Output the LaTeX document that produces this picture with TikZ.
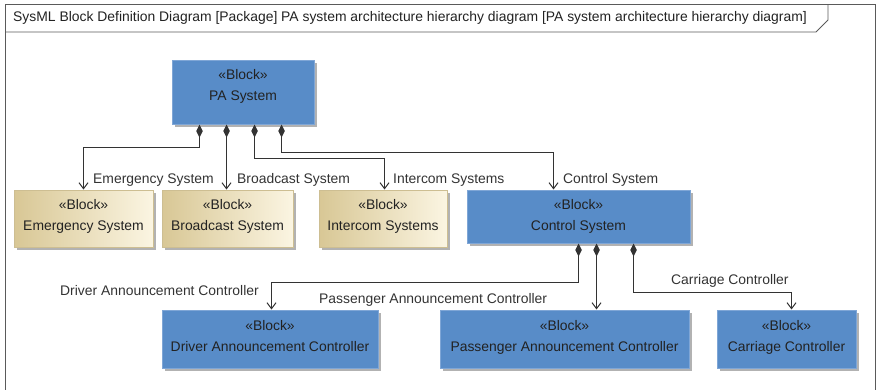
\documentclass[tikz,border=0pt]{standalone}
\usepackage{fontspec}
\setmainfont{Liberation Sans}
\usetikzlibrary{arrows.meta,shadows,calc}
\definecolor{blockblue}{HTML}{588CC8}
\definecolor{blueedge}{HTML}{7FA6D6}
\definecolor{tanleft}{HTML}{D8C795}
\definecolor{tanright}{HTML}{FBF5E2}
\definecolor{tanedge}{HTML}{CDBE92}
\definecolor{ink}{HTML}{222222}
\definecolor{wire}{HTML}{333333}
\definecolor{framec}{HTML}{5A5A5A}
\begin{document}
\begin{tikzpicture}[x=1pt,y=-1pt,
  font=\fontsize{13.9}{21}\selectfont,
  every node/.style={text=ink},
  blockshadow/.style={drop shadow={shadow xshift=3pt,shadow yshift=-3pt,fill=black!30,opacity=1}},
  blueblock/.style={draw=blueedge,line width=1pt,fill=blockblue,inner sep=0pt,blockshadow},
  tanblock/.style={draw=tanedge,line width=1pt,left color=tanleft,right color=tanright,inner sep=0pt,blockshadow},
  btext/.style={anchor=north,align=center,inner sep=0pt},
  rolelabel/.style={anchor=west,inner sep=0pt,text=wire},
  comp/.style={draw=wire,line width=1pt,{Diamond[length=13pt,width=6.5pt]}-{Straight Barb[length=6pt,width=9pt]}}]
\useasboundingbox (0,0) rectangle (876,389);

% diagram frame and header tab
\draw[framec,line width=0.8pt] (5,395) -- (5,4) -- (875,4) -- (875,395);
\draw[framec,line width=0.8pt] (5,32) -- (816,32) -- (828,20) -- (828,4);
\node[anchor=west,inner sep=0pt] (title) at (13,18)
  {SysML Block Definition Diagram [Package] PA system architecture hierarchy diagram [PA system architecture hierarchy diagram]};

% blocks
\node[blueblock,minimum width=142pt,minimum height=64pt] (pa) at (243,92) {};
\node[btext] (pa-t) at ($(pa.north)+(0,10)$) {«Block»\\PA System};

\node[tanblock,minimum width=139pt,minimum height=57pt] (emer) at (83.5,218.5) {};
\node[btext] (emer-t) at ($(emer.north)+(0,10)$) {«Block»\\Emergency System};

\node[tanblock,minimum width=131pt,minimum height=57pt] (bcast) at (227.5,218.5) {};
\node[btext] (bcast-t) at ($(bcast.north)+(0,10)$) {«Block»\\Broadcast System};

\node[tanblock,minimum width=128pt,minimum height=57pt] (icom) at (383,218.5) {};
\node[btext] (icom-t) at ($(icom.north)+(0,10)$) {«Block»\\Intercom Systems};

\node[blueblock,minimum width=223pt,minimum height=53pt] (ctrl) at (578.5,216.5) {};
\node[btext] (ctrl-t) at ($(ctrl.north)+(0,10)$) {«Block»\\Control System};

\node[blueblock,minimum width=216pt,minimum height=58pt] (drv) at (270,339) {};
\node[btext] (drv-t) at ($(drv.north)+(0,10.5)$) {«Block»\\Driver Announcement Controller};

\node[blueblock,minimum width=249pt,minimum height=58pt] (pass) at (564.5,339) {};
\node[btext] (pass-t) at ($(pass.north)+(0,10.5)$) {«Block»\\Passenger Announcement Controller};

\node[blueblock,minimum width=139pt,minimum height=58pt] (car) at (786.5,339) {};
\node[btext] (car-t) at ($(car.north)+(0,10.5)$) {«Block»\\Carriage Controller};

% composition connectors from PA System
\draw[comp] ($(pa.south west)+(28,0)$) -- ++(0,23) -| (emer.north);
\draw[comp] ($(pa.south west)+(55,0)$) coordinate (b0) -- (b0 |- bcast.north);
\draw[comp] ($(pa.south west)+(83,0)$) -- ++(0,34) -| ($(icom.north west)+(66,0)$);
\draw[comp] ($(pa.south west)+(110,0)$) -- ++(0,28) -| ($(ctrl.north west)+(87,0)$);

% composition connectors from Control System
\draw[comp] ($(ctrl.south west)+(112,0)$) -- ++(0,39) -| ($(drv.north west)+(110,0)$);
\draw[comp] ($(ctrl.south west)+(130,0)$) coordinate (p0) -- (p0 |- pass.north);
\draw[comp] ($(ctrl.south west)+(167,0)$) -- ++(0,49) -| ($(car.north west)+(75,0)$);

% role names
\node[rolelabel] (l-emer) at (93,180) {Emergency System};
\node[rolelabel] (l-bcast) at (237,180) {Broadcast System};
\node[rolelabel] (l-icom) at (393,180) {Intercom Systems};
\node[rolelabel] (l-ctrl) at (563,180) {Control System};
\node[rolelabel] (l-drv) at (60,291) {Driver Announcement Controller};
\node[rolelabel] (l-pass) at (319,300) {Passenger Announcement Controller};
\node[rolelabel] (l-car) at (671,281) {Carriage Controller};
\end{tikzpicture}
\end{document}
